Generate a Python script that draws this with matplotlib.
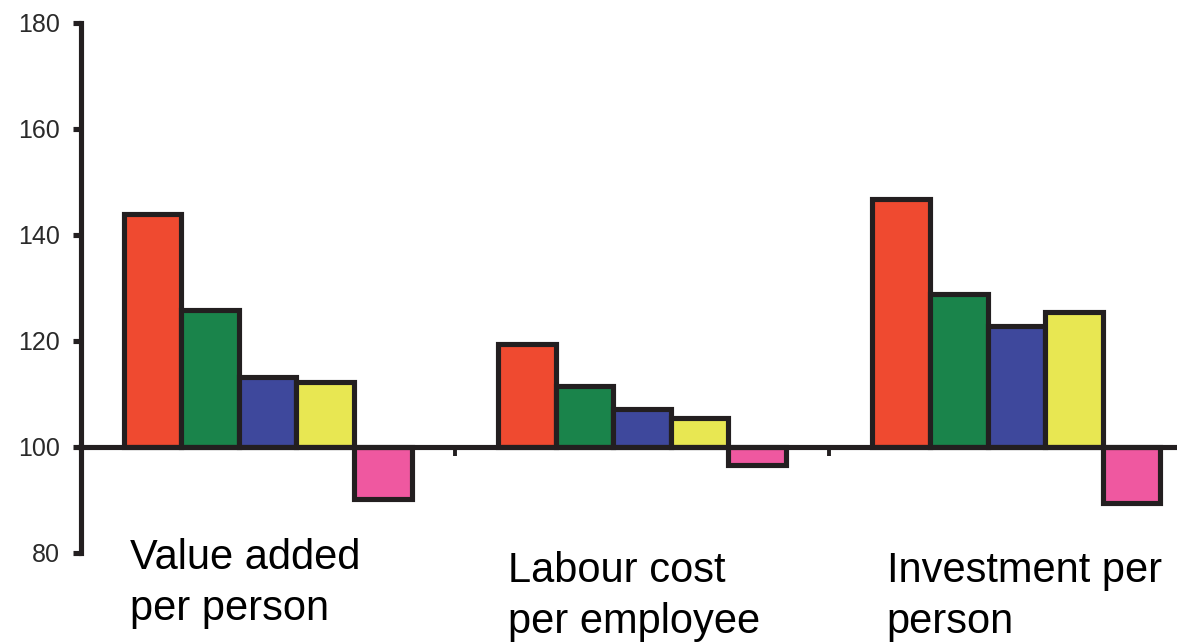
import matplotlib
matplotlib.use("Agg")
import matplotlib.pyplot as plt
import numpy as np

# Index values (100 = reference level) for five groups within each indicator
categories = ["Value added\nper person", "Labour cost\nper employee", "Investment per\nperson"]
series_red = [144.0, 119.4, 146.7]
series_green = [125.9, 111.6, 128.8]
series_blue = [113.3, 107.1, 122.8]
series_yellow = [112.3, 105.5, 125.5]
series_pink = [90.2, 96.6, 89.4]
y_ticks = [80, 100, 120, 140, 160, 180]

series = [series_red, series_green, series_blue, series_yellow, series_pink]
colors = ["#EF4A30", "#1A844B", "#3E489C", "#E8E752", "#EF58A0"]
edge = "#231F20"
base = 100

plt.rcParams["font.family"] = ["Liberation Sans", "DejaVu Sans"]

W, H = 1177, 644
fig = plt.figure(figsize=(W / 100, H / 100), dpi=100)
x0, x1 = 80.5, 1203.5
y_top, y_bot = 23, 553
ax = fig.add_axes([x0 / W, (H - y_bot) / H, (x1 - x0) / W, (y_bot - y_top) / H])

x = np.arange(len(categories))
width = 0.154
for i, (vals, col) in enumerate(zip(series, colors)):
    offs = (i - 2) * width
    heights = [v - base for v in vals]
    ax.bar(x + offs, heights, width=width, bottom=base, color=col,
           edgecolor=edge, linewidth=3.7, zorder=3)

ax.set_xlim(-0.5, 2.5)
ax.set_ylim(80, 180)

for s in ["top", "right"]:
    ax.spines[s].set_visible(False)
ax.spines["left"].set_linewidth(3.7)
ax.spines["left"].set_color(edge)
ax.spines["bottom"].set_position(("data", base))
ax.spines["bottom"].set_linewidth(3.7)
ax.spines["bottom"].set_color(edge)
ax.spines["bottom"].set_zorder(4)

ax.set_yticks(y_ticks)
ax.set_yticklabels([str(t) for t in y_ticks])
ax.tick_params(axis="y", direction="out", length=6, width=3.7, color=edge,
               labelsize=18, labelcolor="#2a2a2a", pad=9)

ax.set_xticks([0.5, 1.5])
ax.set_xticklabels(["", ""])
ax.tick_params(axis="x", direction="out", length=6.5, width=2.8, color=edge)

# Indicator names below the baseline (anchored at the baseline of the last line)
label_pos = [(-0.369, 67.3), (-0.358, 64.9), (-0.346, 64.9)]
for name, (dx, y) in zip(categories, label_pos):
    ax.text(x[categories.index(name)] + dx, y, name, ha="left", va="baseline",
            fontsize=30, color="black", linespacing=1.36, zorder=5)

fig.savefig("out.png", dpi=100)
